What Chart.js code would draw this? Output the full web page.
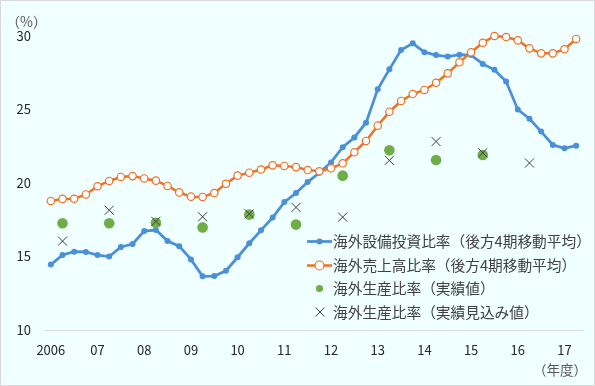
<!DOCTYPE html>
<html>
<head>
<meta charset="utf-8">
<script src="https://cdn.jsdelivr.net/npm/chart.js@4.4.1/dist/chart.umd.min.js"></script>
<style>
  html, body { margin: 0; padding: 0; background: #f0ffff; }
  #wrap { position: relative; width: 595px; height: 386px; }
</style>
</head>
<body>
<div id="wrap"><canvas id="myChart"></canvas></div>
<script>
// year tick labels (one per fiscal year, shown at Q1)
const yearTicks = ['2006', '07', '08', '09', '10', '11', '12', '13', '14', '15', '16', '17'];

// quarterly, 2006Q1 .. 2017Q2
const capexRatio = [14.45, 15.1, 15.33, 15.31, 15.1, 15.0, 15.65, 15.85, 16.73, 16.8,
  16.05, 15.7, 14.8, 13.65, 13.67, 14.03, 14.95, 15.9, 16.78, 17.65,
  18.7, 19.32, 20.06, 20.7, 21.4, 22.43, 23.1, 24.1, 26.37, 27.73,
  29.05, 29.5, 28.9, 28.7, 28.6, 28.73, 28.7, 28.1, 27.7, 26.9,
  25.0, 24.37, 23.5, 22.59, 22.36, 22.54];
const salesRatio = [18.78, 18.92, 18.93, 19.22, 19.78, 20.14, 20.41, 20.47, 20.31, 20.16,
  19.8, 19.36, 19.07, 19.05, 19.32, 19.95, 20.5, 20.7, 20.92, 21.2,
  21.16, 21.08, 20.88, 20.8, 21.0, 21.34, 22.09, 22.86, 23.9, 24.85,
  25.58, 26.05, 26.33, 26.82, 27.46, 28.21, 28.89, 29.54, 30.0, 29.93,
  29.7, 29.16, 28.82, 28.82, 29.1, 29.8];

// annual, plotted at each year's 2nd quarter
const prodActual = [17.26, 17.26, 17.3, 16.98, 17.85, 17.17, 20.5, 22.22, 21.56, 21.9];
const prodExpected = [16.05, 18.15, 17.39, 17.7, 17.9, 18.34, 17.68, 21.54, 22.82, 22.06, 21.36];

const legendLabels = [
  '海外設備投資比率（後方4期移動平均）',
  '海外売上高比率（後方4期移動平均）',
  '海外生産比率（実績値）',
  '海外生産比率（実績見込み値）'
];

const quarterLabels = capexRatio.map((v, i) => (2006 + Math.floor(i / 4)) + 'Q' + (i % 4 + 1));
const actualPts = quarterLabels.map(() => null);
prodActual.forEach((v, i) => { actualPts[i * 4 + 1] = v; });
const expectedPts = quarterLabels.map(() => null);
prodExpected.forEach((v, i) => { expectedPts[i * 4 + 1] = v; });

const blue = '#4a90d9';
const orange = '#ef7124';
const green = '#70ad47';
const cross = '#404040';
const FONT = '"Noto Sans CJK JP", "Noto Sans", sans-serif';

const decor = {
  id: 'decor',
  beforeDraw(chart) {
    const c = chart.ctx;
    c.save();
    c.fillStyle = '#f0ffff';
    c.fillRect(0, 0, chart.width, chart.height);
    c.strokeStyle = '#d9d9d9';
    c.lineWidth = 1;
    c.strokeRect(0.5, 0.5, chart.width - 1, chart.height - 1);
    c.restore();
  },
  afterDraw(chart) {
    const c = chart.ctx;
    c.save();
    c.fillStyle = '#595959';
    c.textBaseline = 'middle';
    c.font = '14px ' + FONT;
    c.fillText('（%）', 6, 22);
    c.font = '13.5px ' + FONT;
    c.fillText('（年度）', 533, 370);

    // legend
    const ys = [241.5, 265.5, 288.5, 312];
    c.font = '14.7px ' + FONT;
    c.fillStyle = '#404040';
    ys.forEach((y, i) => c.fillText(legendLabels[i], 333, y));

    c.lineWidth = 2.75;
    c.strokeStyle = blue;
    c.beginPath(); c.moveTo(307, ys[0]); c.lineTo(332, ys[0]); c.stroke();
    c.fillStyle = blue;
    c.beginPath(); c.arc(319.5, ys[0], 3, 0, Math.PI * 2); c.fill();

    c.lineWidth = 2.5;
    c.strokeStyle = orange;
    c.beginPath(); c.moveTo(307, ys[1]); c.lineTo(332, ys[1]); c.stroke();
    c.fillStyle = '#fff';
    c.lineWidth = 1.2;
    c.beginPath(); c.arc(319.5, ys[1], 4.5, 0, Math.PI * 2); c.fill(); c.stroke();

    c.fillStyle = green;
    c.beginPath(); c.arc(319.5, ys[2], 3.6, 0, Math.PI * 2); c.fill();

    c.strokeStyle = cross;
    c.lineWidth = 1;
    c.beginPath();
    c.moveTo(315.5, ys[3] - 4.5); c.lineTo(324.5, ys[3] + 4.5);
    c.moveTo(324.5, ys[3] - 4.5); c.lineTo(315.5, ys[3] + 4.5);
    c.stroke();
    c.restore();
  }
};

new Chart(document.getElementById('myChart'), {
  type: 'line',
  data: {
    labels: quarterLabels,
    datasets: [{
      label: legendLabels[0],
      data: capexRatio,
      borderColor: blue,
      backgroundColor: blue,
      borderWidth: 2.75,
      pointRadius: 3,
      pointBorderWidth: 0,
      pointBackgroundColor: blue,
      clip: false,
      order: 4
    }, {
      label: legendLabels[1],
      data: salesRatio,
      borderColor: orange,
      backgroundColor: '#fff',
      borderWidth: 2.5,
      pointRadius: 3.7,
      pointBackgroundColor: '#fff',
      pointBorderColor: orange,
      pointBorderWidth: 1.2,
      clip: false,
      order: 3
    }, {
      label: legendLabels[2],
      data: actualPts,
      showLine: false,
      pointRadius: 5.3,
      pointBorderWidth: 0,
      pointBackgroundColor: green,
      order: 2
    }, {
      label: legendLabels[3],
      data: expectedPts,
      showLine: false,
      pointStyle: 'crossRot',
      pointRadius: 6.4,
      pointBorderColor: cross,
      pointBorderWidth: 1,
      order: 1
    }]
  },
  options: {
    responsive: true,
    maintainAspectRatio: false,
    animation: false,
    layout: { padding: { left: 0, right: 13, top: 36, bottom: 0 } },
    plugins: {
      legend: { display: false },
      tooltip: { enabled: false }
    },
    scales: {
      x: {
        offset: true,
        grid: { display: false, drawTicks: false },
        border: { display: true, color: '#d9d9d9', width: 1 },
        afterFit: s => { s.height = 56; },
        ticks: {
          autoSkip: false,
          maxRotation: 0,
          padding: 12,
          color: '#262626',
          font: { family: FONT, size: 13 },
          callback: (v, i) => (i % 4 === 0 ? yearTicks[i / 4] : '')
        }
      },
      y: {
        min: 10,
        max: 30,
        grid: { display: false, drawTicks: false },
        border: { display: false },
        afterFit: s => { s.width = 45; },
        ticks: {
          stepSize: 5,
          padding: 14,
          color: '#262626',
          font: { family: FONT, size: 13 }
        }
      }
    }
  },
  plugins: [decor]
});
</script>
</body>
</html>
